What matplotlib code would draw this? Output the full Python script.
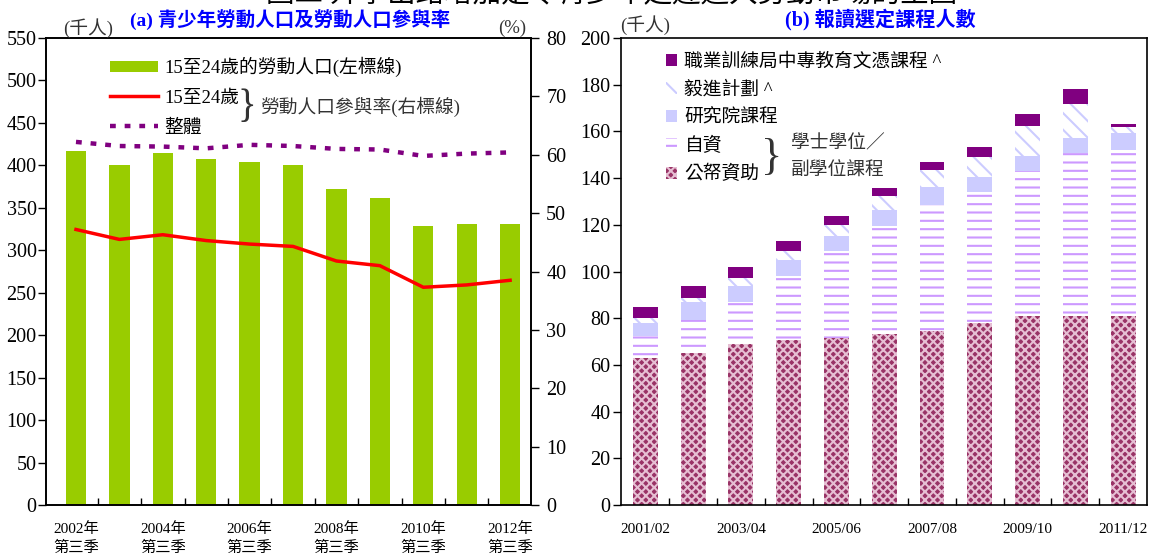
import numpy as np
import matplotlib.pyplot as plt
from matplotlib.patches import Patch
from matplotlib.lines import Line2D

plt.rcParams['font.family'] = ['Liberation Serif', 'Noto Sans CJK TC']
plt.rcParams['hatch.linewidth'] = 1.5

# (a) youth labour force ('000) and participation rate (%), 2002 Q3 - 2012 Q3
labels_a = ['2002年\n第三季', '', '2004年\n第三季', '', '2006年\n第三季', '',
            '2008年\n第三季', '', '2010年\n第三季', '', '2012年\n第三季']
labour_force = [417, 400, 414, 408, 404, 400, 372, 361, 329, 331, 331]
lfpr_youth = [47.2, 45.5, 46.3, 45.3, 44.7, 44.3, 41.8, 41.0, 37.3, 37.7, 38.5]
lfpr_overall = [62.2, 61.5, 61.4, 61.1, 61.7, 61.5, 61.0, 60.9, 59.8, 60.2, 60.4]

# (b) enrolment in selected programmes ('000)
labels_b = ['2001/02', '', '2003/04', '', '2005/06', '', '2007/08', '',
            '2009/10', '', '2011/12']
publicly_funded = [62.8, 65.0, 69.0, 70.7, 71.4, 73.1, 74.5, 78.1, 80.9, 80.9, 80.9]
self_financed = [9.6, 14.2, 18.1, 27.4, 37.5, 46.4, 54.0, 56.1, 62.3, 70.0, 71.1]
postgraduate = [5.7, 7.9, 6.7, 6.8, 6.3, 6.8, 7.8, 6.4, 6.3, 6.3, 7.4]
yijin = [2.1, 1.7, 3.6, 4.0, 4.8, 6.0, 7.2, 8.4, 12.9, 14.5, 2.5]
vtc_diploma = [4.6, 5.0, 4.5, 4.2, 3.8, 3.5, 3.4, 4.3, 5.1, 6.5, 1.3]

GREEN = '#99CC00'
RED = '#FF0000'
PURPLE = '#800080'
LAVENDER = '#CCCCFF'
LILAC = '#CC99FF'
MAROON = '#993366'
BLUE = '#0000FF'

fig = plt.figure(figsize=(11.5, 5.59), dpi=100)

# figure title, cut off at the top edge as in the original
fig.text(0.532, 1 - 8 / 559, '圖二 升學出路增加是令青少年延遲進入勞動市場的主因',
         ha='center', va='bottom', fontsize=20.5)

# ---------------- (a) ----------------
ax1 = fig.add_axes([0.0404, 0.0966, 0.4213, 0.8354])
ax1r = ax1.twinx()
x_a = np.arange(len(labour_force))

ax1.bar(x_a, labour_force, width=0.47, color=GREEN, zorder=2)
ax1r.plot(x_a, lfpr_youth, color=RED, lw=2.5, zorder=3)
ax1r.plot(x_a, lfpr_overall, color=PURPLE, lw=3.2, ls=(0, (1.3, 2.0)),
          dash_capstyle='butt', zorder=3)

ax1.set_xlim(-0.68, 10.48)
ax1.set_ylim(0, 550)
ax1.set_yticks(np.arange(0, 551, 50))
ax1r.set_ylim(0, 80)
ax1r.set_yticks(np.arange(0, 81, 10))

ax1.set_xticks(x_a)
ax1.set_xticklabels(labels_a, fontsize=11, linespacing=1.5)
ax1.set_xticks(x_a[:-1] + 0.5, minor=True)
ax1.tick_params(axis='x', which='major', length=0, pad=12)
ax1.tick_params(axis='x', which='minor', direction='in', length=5, width=1)
ax1.tick_params(axis='y', direction='out', length=6, width=1, labelsize=14.5, pad=1)
ax1r.tick_params(axis='y', direction='out', length=6, width=1, labelsize=14.5, pad=5)
for a in (ax1, ax1r):
    for s in a.spines.values():
        s.set_linewidth(1.2)

fig.text(88 / 1150, 1 - 28 / 559, '(千人)', ha='center', va='center',
         fontsize=13.5, color='#333333')
fig.text(512 / 1150, 1 - 28 / 559, '(%)', ha='center', va='center',
         fontsize=13.5, color='#333333')
fig.text(290 / 1150, 1 - 20 / 559, '(a) 青少年勞動人口及勞動人口參與率',
         ha='center', va='center', fontsize=14, color=BLUE, fontweight='bold')

handles_a = [Patch(facecolor=GREEN),
             Line2D([], [], color=RED, lw=2.5),
             Line2D([], [], color=PURPLE, lw=3.2, ls=(0, (1.3, 2.0)),
                    dash_capstyle='butt')]
names_a = ['15至24歲的勞動人口(左標線)', '15至24歲', '整體']
ax1r.legend(handles_a, names_a, loc='upper left', bbox_to_anchor=(0.115, 0.976),
            frameon=False, fontsize=13.5, handlelength=2.6, handleheight=0.55,
            handletextpad=0.3, labelspacing=0.67, borderaxespad=0)
ax1r.text(0.413, 0.852, '}', transform=ax1r.transAxes, ha='center', va='center',
          fontsize=28, color='#333333')
ax1r.text(0.44, 0.852, '勞動人口參與率(右標線)', transform=ax1r.transAxes,
          ha='left', va='center', fontsize=13.5, color='#333333')

# ---------------- (b) ----------------
ax2 = fig.add_axes([0.5404, 0.0966, 0.457, 0.8354])
x_b = np.arange(len(publicly_funded))
w = 0.52

layers = [
    (publicly_funded, dict(facecolor=MAROON, edgecolor='#E6BFD3', hatch='xxxx'), '公帑資助'),
    (self_financed, dict(facecolor='white', edgecolor=LILAC, hatch='--'), '自資'),
    (postgraduate, dict(facecolor=LAVENDER, edgecolor=LAVENDER), '研究院課程'),
    (yijin, dict(facecolor='white', edgecolor=LAVENDER, hatch='\\\\'), '毅進計劃 ^'),
    (vtc_diploma, dict(facecolor=PURPLE, edgecolor=PURPLE), '職業訓練局中專教育文憑課程 ^'),
]
bottom = np.zeros(len(x_b))
bar_handles = []
for vals, style, name in layers:
    b = ax2.bar(x_b, vals, width=w, bottom=bottom, linewidth=0, label=name,
                zorder=2, **style)
    bar_handles.append(b)
    bottom += np.array(vals)

ax2.set_xlim(-0.5, 10.5)
ax2.set_ylim(0, 200)
ax2.set_yticks(np.arange(0, 201, 20))
ax2.set_xticks(x_b)
ax2.set_xticklabels(labels_b, fontsize=11)
ax2.set_xticks(x_b[:-1] + 0.5, minor=True)
ax2.tick_params(axis='x', which='major', length=0, pad=13)
ax2.tick_params(axis='x', which='minor', direction='in', length=5, width=1)
ax2.tick_params(axis='y', direction='out', length=6, width=1, labelsize=14.5, pad=2)
for s in ax2.spines.values():
    s.set_linewidth(1.2)

fig.text(645 / 1150, 1 - 25 / 559, '(千人)', ha='center', va='center',
         fontsize=13.5, color='#333333')
fig.text(880 / 1150, 1 - 20 / 559, '(b) 報讀選定課程人數',
         ha='center', va='center', fontsize=14.5, color=BLUE, fontweight='bold')

ax2.legend(bar_handles[::-1], [l[2] for l in layers[::-1]], loc='upper left',
           bbox_to_anchor=(0.07, 0.984), frameon=False, fontsize=13.5,
           handlelength=0.6, handleheight=0.6, handletextpad=0.4,
           labelspacing=0.55, borderaxespad=0)
ax2.text(0.285, 0.744, '}', transform=ax2.transAxes, ha='center', va='center',
         fontsize=32, color='#333333')
ax2.text(0.322, 0.744, '學士學位／\n副學位課程', transform=ax2.transAxes,
         ha='left', va='center', fontsize=13.5, color='#333333', linespacing=1.75)

fig.savefig('out.png', dpi=100)
